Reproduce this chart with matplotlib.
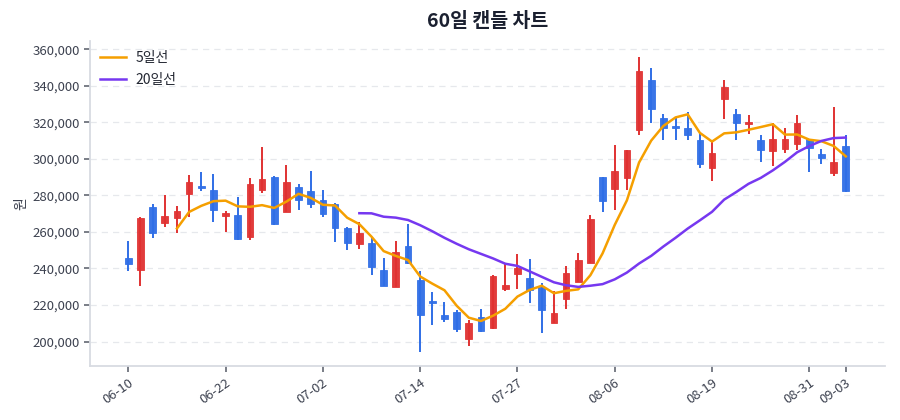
import matplotlib
matplotlib.use("Agg")
import matplotlib.pyplot as plt
import numpy as np
import pandas as pd
from matplotlib.ticker import FuncFormatter, MultipleLocator

plt.rcParams['font.family'] = ['Noto Sans CJK KR', 'DejaVu Sans']

dates = ["06-10", "06-11", "06-14", "06-15", "06-16", "06-17", "06-18", "06-21", "06-22", "06-23",
         "06-24", "06-25", "06-28", "06-29", "06-30", "07-01", "07-02", "07-05", "07-06", "07-07",
         "07-08", "07-09", "07-12", "07-13", "07-14", "07-15", "07-16", "07-19", "07-20", "07-21",
         "07-22", "07-23", "07-27", "07-28", "07-29", "07-30", "08-02", "08-03", "08-04", "08-05",
         "08-06", "08-09", "08-10", "08-11", "08-12", "08-13", "08-17", "08-18", "08-19", "08-20",
         "08-23", "08-24", "08-25", "08-26", "08-27", "08-30", "08-31", "09-01", "09-02", "09-03"]

opens = [245600, 239200, 273800, 264700, 267800, 280800, 285300, 282900, 268700, 269300,
         257400, 282900, 290200, 270700, 284500, 282300, 277400, 275400, 262000, 253300,
         253800, 239300, 230000, 252300, 233600, 222400, 214700, 216000, 201500, 213200,
         207200, 228500, 237200, 235000, 229900, 209900, 223000, 232700, 243000, 289800,
         283700, 289700, 315600, 342900, 322400, 317700, 316600, 310100, 295000, 332500,
         324800, 318800, 310100, 304100, 305400, 307900, 310600, 302900, 292200, 307100]
highs = [255000, 268000, 275300, 280200, 274400, 291100, 292900, 291500, 271500, 279300,
         289300, 306300, 290600, 296600, 286000, 293200, 282900, 276000, 262500, 265600,
         256500, 245600, 255100, 264200, 238700, 226900, 221400, 217300, 212000, 217600,
         236200, 242700, 247700, 244900, 231800, 227600, 241200, 248500, 269400, 290000,
         307400, 305000, 355700, 349500, 324600, 322100, 325700, 314100, 309600, 343400,
         327500, 324000, 312900, 319700, 316600, 324000, 310800, 305500, 328300, 312900]
lows = [238800, 230500, 256500, 262900, 259600, 268300, 282600, 265600, 260100, 255600,
        255600, 281100, 263800, 270700, 272000, 273200, 268300, 254500, 250000, 250500,
        236500, 230500, 229600, 242400, 194500, 209100, 210500, 205100, 197800, 205200,
        207000, 227600, 229000, 221200, 204800, 209900, 217600, 232500, 242800, 270900,
        272100, 283200, 312900, 319700, 310300, 310100, 310100, 295000, 287900, 322000,
        310100, 313500, 298300, 296000, 303200, 304900, 292800, 297300, 290500, 281600]
closes = [242300, 267500, 259300, 268700, 271600, 287500, 284200, 272000, 270200, 256000,
          286200, 288800, 264400, 287500, 277300, 275100, 270000, 262300, 254100, 259600,
          240900, 230500, 249100, 242900, 214600, 221300, 212400, 206900, 210000, 205600,
          235900, 231200, 240300, 228100, 217200, 215400, 237600, 244500, 266900, 276800,
          293300, 304800, 348000, 327000, 316900, 316600, 313300, 297200, 303200, 339400,
          319400, 320300, 304600, 311000, 311000, 319700, 306000, 300500, 298000, 282500]

up_color = "#e03131"
down_color = "#2f6ee6"

df = pd.DataFrame({"date": dates, "open": opens, "high": highs, "low": lows, "close": closes})
df["ma5"] = df["close"].rolling(5).mean()
df["ma20"] = df["close"].rolling(20).mean()
x = np.arange(len(df))

fig = plt.figure(figsize=(9, 4.2), dpi=100)
ax = fig.add_axes([0.1, 0.129, 0.883, 0.773])

colors = [up_color if c >= o else down_color for o, c in zip(df["open"], df["close"])]
ax.vlines(x, df["low"], df["high"], colors=colors, linewidth=1.4, zorder=2)
body_bottom = np.minimum(df["open"], df["close"])
body_height = np.maximum(np.abs(df["close"] - df["open"]), 600)
ax.bar(x, body_height, bottom=body_bottom, width=0.55, color=colors,
       edgecolor=colors, linewidth=0.6, alpha=0.95, zorder=3)

ax.plot(x, df["ma5"], color="#f59f00", linewidth=1.8, label="5일선", zorder=4)
ax.plot(x, df["ma20"], color="#7638f0", linewidth=1.8, label="20일선", zorder=4)

ax.set_xlim(-3.15, 62.2)
ax.set_ylim(186700, 364400)
ax.yaxis.set_major_locator(MultipleLocator(20000))
ax.yaxis.set_major_formatter(FuncFormatter(lambda v, p: f"{int(v):,}"))

tick_idx = list(range(0, len(df), 8)) + [len(df) - 1]
ax.set_xticks(tick_idx)
ax.set_xticklabels([dates[i] for i in tick_idx], rotation=35, ha="right",
                   rotation_mode="anchor")

ax.grid(axis="y", color="#e6e8ec", linestyle=(0, (5, 4)), linewidth=0.9, zorder=0)
ax.set_axisbelow(True)
for s in ["top", "right"]:
    ax.spines[s].set_visible(False)
for s in ["left", "bottom"]:
    ax.spines[s].set_color("#d8dbe2")
    ax.spines[s].set_linewidth(1.3)
ax.tick_params(axis="both", colors="#555a66", labelsize=9.5, length=4, width=1.1)
ax.tick_params(axis="both", labelcolor="#3d4250")

ax.set_ylabel("원", color="#3d4250", fontsize=10, labelpad=3)
ax.set_title("60일 캔들 차트", fontsize=14, fontweight="bold", color="#1b2030", pad=10)

leg = ax.legend(loc="upper left", frameon=False, fontsize=10, handlelength=1.9,
                handletextpad=0.7, borderaxespad=0.3, labelspacing=0.6)
for t in leg.get_texts():
    t.set_color("#222631")

fig.savefig("out.png", dpi=100)
